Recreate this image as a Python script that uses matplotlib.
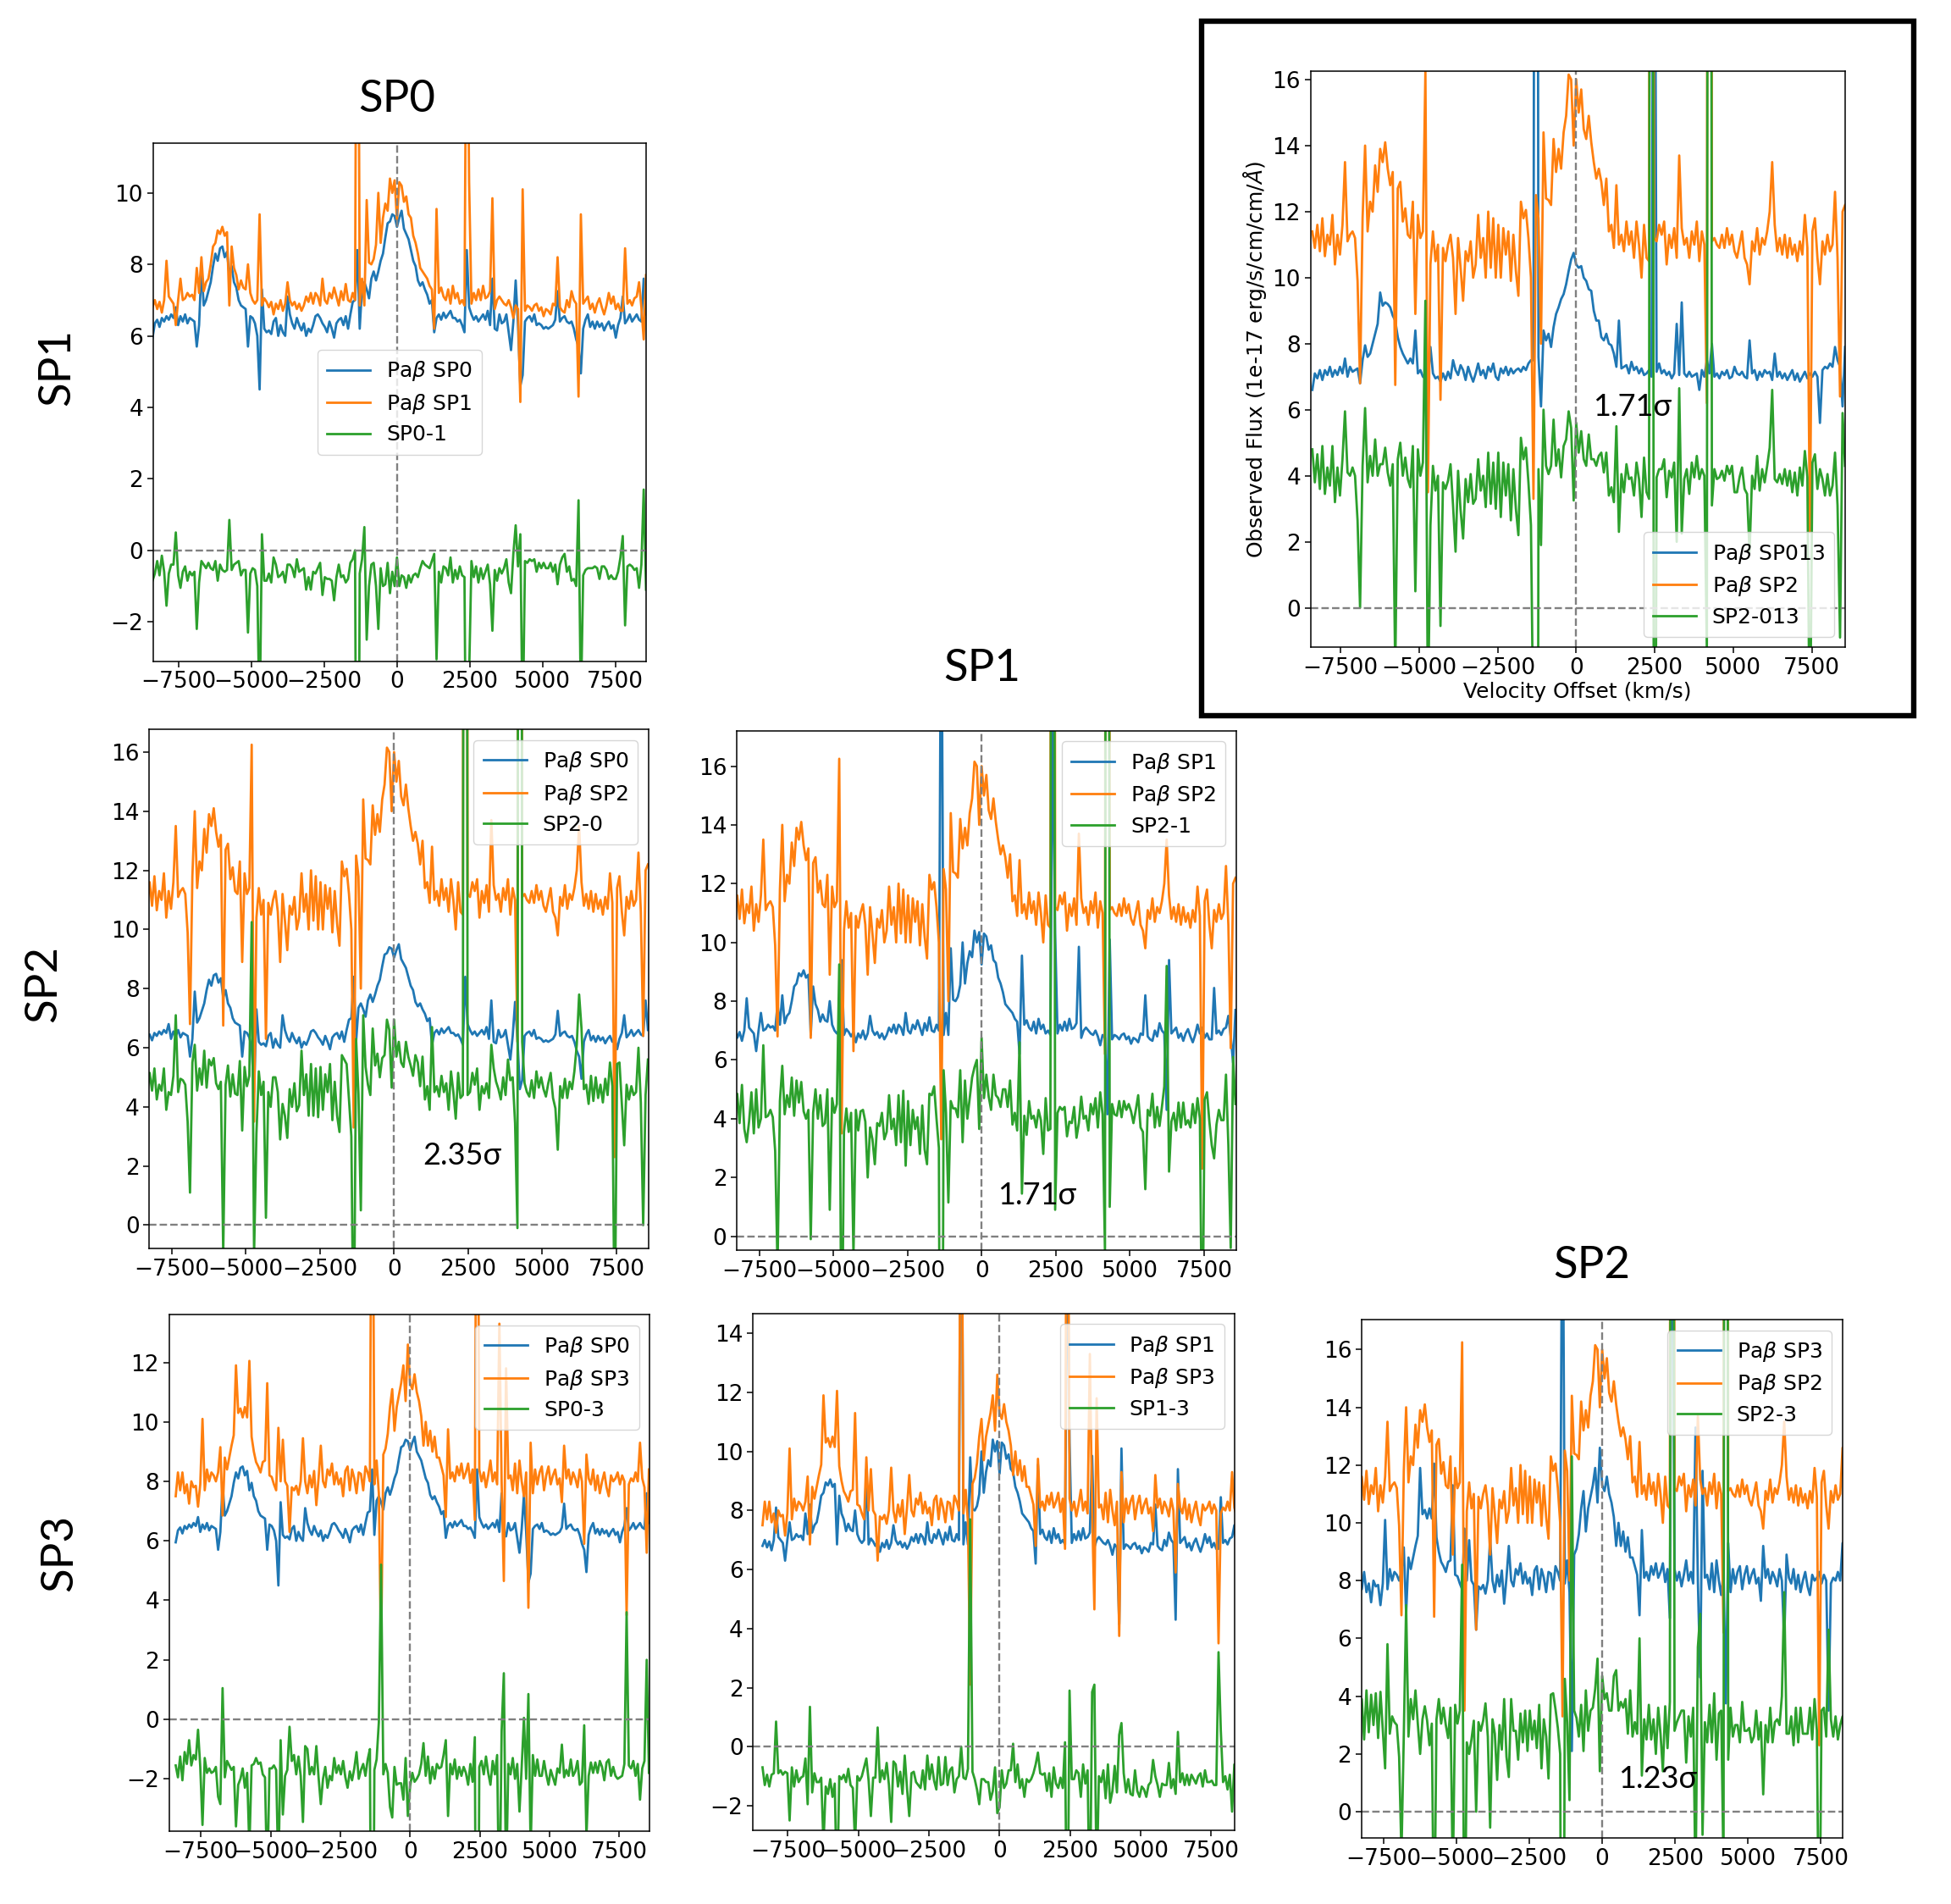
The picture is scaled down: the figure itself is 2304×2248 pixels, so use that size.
import numpy as np
import matplotlib
matplotlib.use("Agg")
import matplotlib.pyplot as plt

# velocity channels (km/s) shared by every spectrum
velocity = np.arange(-8400, 8561, 80)

sp0 = [
 5.95,6.35,6.45,6.25,6.5,6.4,6.55,6.45,6.6,6.5,
 6.8,6.3,6.55,6.4,6.6,6.35,6.5,6.45,6.4,5.7,
 6.3,7.9,6.85,7.0,7.25,7.5,7.95,8.3,8.1,8.45,
 8.5,8.2,8.35,7.7,7.95,7.5,7.35,7.0,6.85,6.8,
 6.75,5.7,6.55,6.5,6.35,6.0,4.5,7.3,6.2,6.1,
 6.15,6.05,6.4,6.5,6.0,6.3,6.1,6.0,7.1,6.6,
 6.35,6.2,6.5,6.3,6.15,6.35,6.0,6.2,6.1,6.3,
 6.55,6.6,6.5,6.35,6.25,6.1,6.4,6.2,5.95,6.35,
 6.45,6.5,6.3,6.55,6.2,6.6,6.95,7.0,8.4,6.2,
 7.35,7.5,7.3,7.05,7.6,7.8,7.55,7.8,8.1,8.3,
 8.75,9.15,9.2,9.4,9.35,9.05,9.3,9.5,9.0,8.85,
 8.7,8.4,8.1,7.95,7.55,7.4,7.5,7.3,7.15,6.9,
 7.0,6.1,6.5,6.6,6.45,6.65,6.5,6.6,6.7,6.5,
 6.5,6.4,6.45,6.3,6.1,8.4,6.8,6.6,6.45,6.55,
 6.4,6.5,6.6,6.45,6.7,6.3,7.6,6.2,6.15,6.6,
 6.35,6.4,6.6,6.1,5.6,6.4,7.55,6.3,4.6,4.9,
 6.4,6.5,6.55,6.4,6.6,6.3,6.35,6.3,6.2,6.25,
 6.2,6.25,6.3,6.45,7.25,6.4,6.5,6.55,6.4,6.35,
 6.4,6.2,5.9,5.7,4.95,6.2,6.45,6.6,6.25,6.4,
 6.2,6.4,6.25,6.35,6.15,6.3,6.4,6.2,6.3,5.95,
 6.3,6.5,7.1,6.35,6.45,6.6,6.4,6.5,6.6,6.45,
 6.4,7.6,6.6]

sp1 = [
 6.8,7.0,6.75,6.95,6.65,7.0,8.1,7.1,7.0,6.9,
 6.3,7.0,7.6,7.0,7.05,7.2,7.1,7.15,7.0,7.9,
 7.2,8.2,7.25,7.5,7.6,8.0,8.5,8.6,8.95,8.85,
 9.05,8.8,8.9,6.85,8.5,7.9,7.7,7.3,7.55,7.35,
 7.3,8.0,7.2,7.0,6.9,7.0,9.4,6.85,7.05,6.95,
 6.8,6.95,6.6,6.9,6.75,7.0,6.7,6.9,7.5,7.0,
 6.85,6.95,6.75,6.9,6.7,6.85,7.1,6.95,7.2,6.9,
 7.2,7.1,6.85,7.6,7.0,6.9,7.2,7.05,7.35,7.1,
 6.85,7.25,7.0,7.45,7.0,6.95,7.2,7.0,24.0,6.85,
 7.6,6.85,9.8,8.05,8.0,8.15,8.55,10.0,8.6,9.3,
 9.7,9.5,10.4,10.0,10.35,9.25,10.3,10.2,9.75,9.9,
 9.4,9.3,8.8,8.6,8.3,7.9,7.8,7.7,7.6,7.4,
 7.3,6.2,9.55,7.2,7.35,7.1,7.0,7.3,6.9,7.4,
 7.05,7.2,6.9,7.0,6.85,18.0,10.3,6.9,7.2,7.0,
 7.3,7.0,7.4,7.05,7.1,7.25,9.85,6.75,7.0,7.1,
 7.0,6.9,6.85,7.0,6.8,6.5,6.85,6.75,4.15,10.1,
 6.7,6.85,6.8,6.7,6.85,6.9,6.7,6.8,6.55,6.75,
 6.7,6.6,6.9,6.85,8.2,6.8,6.7,6.65,7.0,6.8,
 7.25,7.0,6.9,4.3,9.4,6.9,7.0,7.1,6.75,6.9,
 6.65,6.9,7.05,6.8,6.6,6.85,7.2,6.9,7.1,6.75,
 6.9,6.7,6.7,8.45,6.9,7.0,6.85,7.05,7.1,7.5,
 6.8,5.9,7.7]

sp2 = [
 11.4,10.9,11.6,10.8,11.8,10.65,11.3,11.0,11.9,10.4,
 11.3,10.7,11.6,13.5,11.1,11.3,11.4,11.2,9.9,6.8,
 11.8,14.0,11.4,12.3,12.0,13.4,12.6,13.9,13.5,14.1,
 13.3,12.8,13.2,6.75,12.7,12.9,11.7,12.1,11.3,11.2,
 12.3,8.9,11.9,11.2,11.4,16.25,3.5,10.4,11.4,10.5,
 11.0,6.3,10.9,10.5,11.0,11.3,10.6,8.9,11.2,10.3,
 9.3,10.8,10.5,11.1,10.0,10.4,11.9,10.6,11.2,10.0,
 12.0,10.3,11.8,10.0,11.6,10.0,11.5,10.7,11.4,9.9,
 11.3,10.2,9.45,12.3,11.8,12.05,11.2,10.0,3.3,12.5,
 11.8,8.0,14.4,12.4,12.35,12.2,14.2,13.2,13.9,13.3,
 14.4,14.9,16.15,16.0,14.0,16.0,15.0,15.7,14.5,14.2,
 14.9,14.1,13.5,13.0,13.3,12.9,12.2,13.0,11.4,11.6,
 10.9,12.8,11.0,11.3,10.8,11.7,11.0,11.4,10.6,11.7,
 11.0,10.0,11.6,10.6,10.5,90.0,11.2,11.1,11.6,11.3,
 11.7,10.4,11.3,10.9,11.5,10.6,13.7,11.5,11.0,11.2,
 10.6,11.4,11.0,11.7,10.5,11.4,11.0,6.2,90.0,11.1,
 11.2,11.0,10.9,11.3,10.9,11.5,11.0,11.3,10.8,10.6,
 11.0,11.4,10.6,10.4,9.8,11.1,10.8,11.5,10.7,11.2,
 11.0,11.4,12.0,13.5,11.6,10.8,11.2,10.7,11.3,10.6,
 11.2,10.7,11.0,10.5,11.1,10.7,11.9,10.9,2.3,11.4,
 11.8,10.6,9.8,11.1,10.7,11.3,10.8,11.0,12.6,10.6,
 6.4,12.0,12.2]

sp3 = [
 7.5,8.3,7.7,8.3,7.6,7.9,7.25,8.0,7.8,7.85,
 7.15,7.9,10.1,7.7,8.4,8.0,8.3,8.2,8.0,8.3,
 9.15,6.85,8.8,8.4,8.8,9.2,9.55,11.9,10.3,10.45,
 10.15,10.5,10.15,12.05,9.5,9.0,8.65,8.5,8.3,8.65,
 8.7,11.3,8.2,8.15,7.9,7.7,9.8,8.0,9.4,8.0,
 7.85,6.3,7.8,7.7,7.85,7.55,8.0,9.45,8.0,7.6,
 8.2,7.8,8.35,7.2,8.1,9.2,8.0,7.8,8.4,8.2,
 8.6,7.9,8.3,7.9,8.1,7.5,8.35,8.5,7.7,8.4,
 8.1,7.6,8.3,8.25,7.7,8.5,8.3,8.0,24.0,7.9,
 8.7,7.6,2.1,8.9,9.1,9.6,10.5,11.1,9.7,10.5,
 10.9,11.3,11.9,10.7,12.6,11.3,11.1,11.6,11.0,10.7,
 10.2,9.2,10.0,9.2,9.7,9.0,9.5,8.8,8.8,8.5,
 8.2,6.8,9.75,8.1,8.3,8.0,8.5,8.2,8.6,8.1,
 8.3,8.6,7.95,8.4,6.7,26.0,8.4,8.0,8.3,7.8,
 8.2,8.7,8.0,8.3,7.9,13.3,8.0,4.65,11.8,8.1,
 8.2,7.7,8.6,7.6,8.7,8.0,7.5,8.3,3.75,9.3,
 7.6,8.4,7.9,8.3,8.5,7.7,8.2,8.5,7.9,8.2,
 8.4,7.9,8.1,7.3,9.2,8.1,8.4,7.9,8.3,8.1,
 7.8,8.4,8.0,5.9,8.9,8.1,7.9,8.4,7.7,8.2,
 7.6,8.0,8.3,7.8,7.5,8.2,8.0,8.1,8.3,7.9,
 8.2,8.0,3.5,7.9,8.1,8.0,8.3,8.0,9.3,8.1,
 7.8,5.6,8.4]

sp013 = [
 6.6,7.1,6.95,7.2,6.9,7.2,7.05,7.3,7.0,7.2,
 7.05,7.3,7.1,7.55,7.0,7.3,7.15,7.2,7.25,6.8,
 7.5,7.95,7.6,7.7,8.0,8.3,8.6,9.55,9.15,9.25,
 9.2,9.1,8.85,8.7,8.2,7.9,7.7,7.55,7.4,7.55,
 7.4,8.4,7.1,7.2,7.0,6.95,6.9,7.9,7.1,6.95,
 7.0,6.85,7.1,6.9,7.15,6.95,7.5,7.2,7.05,7.35,
 7.2,6.9,7.3,7.05,6.85,7.1,7.4,7.05,7.2,6.95,
 7.3,7.15,7.4,7.0,6.9,7.25,7.1,7.3,7.05,7.25,
 7.1,7.2,7.25,7.15,7.3,7.2,7.4,7.5,7.5,60.0,
 7.6,6.1,8.4,8.1,8.3,7.9,8.5,8.9,9.1,9.35,
 9.5,9.8,10.2,10.55,10.75,10.4,10.3,10.35,10.0,9.9,
 9.65,9.6,9.0,8.7,8.7,8.2,8.1,8.3,8.0,7.95,
 7.7,7.3,8.7,7.25,7.3,7.35,7.1,7.45,7.2,7.3,
 7.1,7.25,7.05,7.1,7.2,7.0,30.0,7.15,7.4,7.1,
 7.2,7.05,7.15,6.95,7.1,8.6,7.05,9.25,7.1,7.0,
 7.15,7.0,7.05,7.1,6.6,7.2,7.0,7.5,7.1,8.0,
 7.0,7.1,6.95,7.15,7.05,7.2,6.95,7.0,7.3,7.1,
 7.05,7.15,7.0,6.95,8.1,7.1,7.2,6.9,7.15,7.0,
 7.2,7.1,7.15,6.9,7.7,7.0,7.15,6.95,7.1,6.9,
 7.05,7.2,6.9,7.1,6.85,7.0,7.15,6.95,7.1,7.0,
 7.15,7.0,5.6,7.2,7.3,7.25,7.4,7.3,7.9,7.5,
 7.3,6.1,7.9]

spectra = {"SP0": sp0, "SP1": sp1, "SP2": sp2, "SP3": sp3, "SP013": sp013}
x_ticks = [-7500, -5000, -2500, 0, 2500, 5000, 7500]

W, H = 2304, 2248
S = 1.47   # reference pixels per layout unit
fig = plt.figure(figsize=(W / 100, H / 100), dpi=100)


def place(l, r, t, b):
    return fig.add_axes([l * S / W, 1 - b * S / H, (r - l) * S / W, (b - t) * S / H])


def panel(box, xlim, ylim, yticks, blue, orange, minuend, subtrahend, green_label, legend):
    ax = place(*box)
    ax.plot(velocity, spectra[blue], color="C0", lw=2.0, label=rf"Pa$\beta$ {blue}")
    ax.plot(velocity, spectra[orange], color="C1", lw=2.0, label=rf"Pa$\beta$ {orange}")
    diff = np.array(spectra[minuend]) - np.array(spectra[subtrahend])
    ax.plot(velocity, diff, color="C2", lw=2.0, label=green_label)
    ax.axvline(0, color="gray", ls="--", lw=1.7)
    ax.axhline(0, color="gray", ls="--", lw=1.7)
    ax.set_xlim(*xlim)
    ax.set_ylim(*ylim)
    ax.set_xticks(x_ticks)
    ax.set_yticks(yticks)
    ax.tick_params(labelsize=19, length=5, width=1.1)
    for s in ax.spines.values():
        s.set_linewidth(1.1)
    ax.legend(fontsize=18, handlelength=2.05, handletextpad=0.75, labelspacing=0.42,
              borderpad=0.45, **legend)
    return ax


panel((123, 519, 115, 531), (-8380, 8560), (-3.1, 11.39), range(-2, 11, 2),
      "SP0", "SP1", "SP0", "SP1", "SP0-1",
      dict(loc="center", bbox_to_anchor=(0.5, 0.5)))
panel((120, 521, 586, 1003), (-8250, 8580), (-0.8, 16.76), range(0, 17, 2),
      "SP0", "SP2", "SP2", "SP0", "SP2-0", dict(loc="upper right"))
panel((592, 993, 587, 1004), (-8250, 8580), (-0.47, 17.2), range(0, 17, 2),
      "SP1", "SP2", "SP2", "SP1", "SP2-1", dict(loc="upper right"))
panel((136, 522, 1056, 1471), (-8630, 8590), (-3.77, 13.6), range(-2, 13, 2),
      "SP0", "SP3", "SP0", "SP3", "SP0-3", dict(loc="upper right"))
panel((605, 992, 1055, 1470), (-8734, 8337), (-2.83, 14.67), range(-2, 15, 2),
      "SP1", "SP3", "SP1", "SP3", "SP1-3", dict(loc="upper right"))
panel((1094, 1480, 1060, 1476), (-8240, 8230), (-0.9, 17.03), range(0, 17, 2),
      "SP3", "SP2", "SP2", "SP3", "SP2-3", dict(loc="upper right"))
inset = panel((1053, 1482, 57, 520), (-8450, 8550), (-1.2, 16.26), range(0, 17, 2),
              "SP013", "SP2", "SP2", "SP013", "SP2-013", dict(loc="lower right"))
inset.set_xlabel("Velocity Offset (km/s)", fontsize=18, labelpad=2)
inset.set_ylabel(r"Observed Flux (1e-17 erg/s/cm/cm/$\AA$)", fontsize=18, labelpad=3)

# thick frame around the summary panel
fig.add_artist(plt.Rectangle((965 * S / W, 1 - 575 * S / H), (1537.5 - 965) * S / W, (575 - 17) * S / H,
                             fill=False, ec="black", lw=4.6, transform=fig.transFigure))


def label(x, y, s, size, rot=0):
    fig.text(x * S / W, 1 - y * S / H, s, fontsize=size, rotation=rot, ha="center", va="center",
             family=["Lato", "DejaVu Sans"])


label(319, 80, "SP0", 38)
label(789, 537, "SP1", 38)
label(1279, 1017, "SP2", 38)
label(46, 295, "SP1", 38, 90)
label(35, 790, "SP2", 38, 90)
label(48, 1247, "SP3", 38, 90)
label(1311, 327, "1.71σ", 26)
label(371, 928, "2.35σ", 26)
label(833, 960, "1.71σ", 26)
label(1332, 1429, "1.23σ", 26)

fig.savefig("out.png", dpi=100)
